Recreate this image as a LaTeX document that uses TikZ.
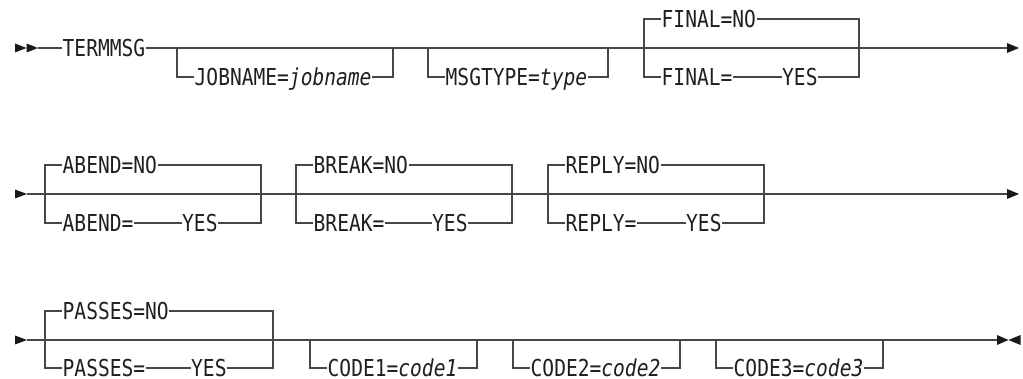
\documentclass[tikz,border=0pt]{standalone}
\usepackage{fontspec}
\newfontfamily\rrfont[FakeStretch=0.84]{DejaVu Sans Mono}
\newcommand\rrOptional[6]{%
  \node[lbl] (#1) at (#2+17,#5) {#6};
  \draw[rail] (#2,#4) -- (#2,#5) -- (#1.west);
  \draw[rail] (#1.east) -- (#3,#5) -- (#3,#4);
}
\newcommand\rrChoice[8]{%
  \node[lbl] (#1no) at (#2+17,#4) {#6};
  \node[lbl] (#1key) at (#2+17,#5) {#7};
  \node[lbl] (#1yes) at (#8,#5) {YES};
  \draw[rail] (#1no.west) -- (#2,#4) -- (#2,#5) -- (#1key.west);
  \draw[rail] (#1key.east) -- (#1yes.west);
  \draw[rail] (#1no.east) -- (#3,#4) -- (#3,#5) -- (#1yes.east);
}
\begin{document}
\begin{tikzpicture}[x=1pt,y=-1pt,
  lbl/.style={font=\rrfont\fontsize{23.3}{27}\selectfont, anchor=west, inner xsep=0.5pt, inner ysep=0pt, text height=17pt, text depth=0pt, text=black!88},
  rail/.style={line width=1.3pt, draw=black!72},
  tip/.style={fill=black!90}]
\useasboundingbox (0,0) rectangle (1023,379);

% ---------- row 1 ----------
\fill[tip] (15,43.5) -- (26.5,48) -- (15,52.5) -- cycle;
\fill[tip] (26.5,43.5) -- (38,48) -- (26.5,52.5) -- cycle;
\coordinate (s1) at (38,48);
\coordinate (e1) at (1007,48);
\node[lbl] (termmsg) at (62,48) {TERMMSG};
\draw[rail] (s1) -- (termmsg.west);
\draw[rail] (termmsg.east) -- (e1);
\rrOptional{jobname}{177}{393}{48}{77}{JOBNAME=\textit{jobname}}
\rrOptional{msgtype}{428}{608}{48}{77}{MSGTYPE=\textit{type}}
\rrChoice{final}{644}{859}{19}{77}{FINAL=NO}{FINAL=}{781.5}
\fill[tip] (e1) ++(0,-5) -- ++(12,5) -- ++(-12,5) -- cycle;

% ---------- row 2 ----------
\fill[tip] (15,189.5) -- (27,194) -- (15,198.5) -- cycle;
\coordinate (s2) at (27,194);
\coordinate (e2) at (1007,194);
\draw[rail] (s2) -- (e2);
\rrChoice{abend}{45}{261}{165}{223}{ABEND=NO}{ABEND=}{181.5}
\rrChoice{break}{296}{512}{165}{223}{BREAK=NO}{BREAK=}{431.5}
\rrChoice{reply}{548}{764}{165}{223}{REPLY=NO}{REPLY=}{685.5}
\fill[tip] (e2) ++(0,-5) -- ++(12,5) -- ++(-12,5) -- cycle;

% ---------- row 3 ----------
\fill[tip] (15,335.5) -- (27,340) -- (15,344.5) -- cycle;
\coordinate (s3) at (27,340);
\coordinate (e3) at (997,340);
\draw[rail] (s3) -- (e3);
\rrChoice{passes}{45}{273}{311}{368}{PASSES=NO}{PASSES=}{190.5}
\rrOptional{codea}{310}{477}{340}{368}{CODE1=\textit{code1}}
\rrOptional{codeb}{513}{680}{340}{368}{CODE2=\textit{code2}}
\rrOptional{codec}{716}{883}{340}{368}{CODE3=\textit{code3}}
\fill[tip] (e3) ++(0,-5) -- ++(11.5,5) -- ++(-11.5,5) -- cycle;
\fill[tip] (1020.5,335) -- (1008.5,340) -- (1020.5,345) -- cycle;
\end{tikzpicture}
\end{document}
